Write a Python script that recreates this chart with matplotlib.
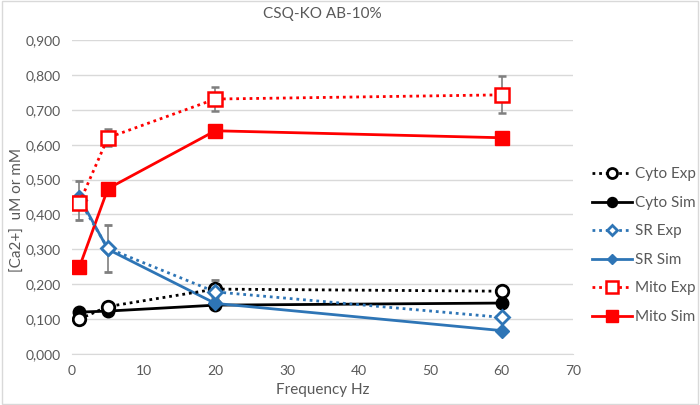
import matplotlib
matplotlib.use("Agg")
import matplotlib.pyplot as plt
from matplotlib.ticker import FuncFormatter, MultipleLocator

plt.rcParams["font.family"] = ["Lato", "DejaVu Sans"]

freq = [1, 5, 20, 60]

cyto_exp = [0.100, 0.136, 0.186, 0.180]
cyto_exp_err = [0.008, 0.008, 0.026, 0.008]
cyto_sim = [0.120, 0.123, 0.140, 0.146]

sr_exp = [0.441, 0.303, 0.178, 0.105]
sr_exp_err = [0.056, 0.068, 0.010, 0.008]
sr_sim = [0.450, 0.300, 0.145, 0.067]

mito_exp = [0.432, 0.620, 0.731, 0.743]
mito_exp_err = [0.012, 0.025, 0.035, 0.053]
mito_sim = [0.248, 0.474, 0.640, 0.620]

BLACK = "#000000"
BLUE = "#2E75B6"
RED = "#FF0000"
GRAY = "#595959"
ERR = "#7F7F7F"
DOT = (0, (1, 1.4))

fig = plt.figure(figsize=(7, 4.05), dpi=100)
ax = fig.add_axes([0.103, 0.126, 0.716, 0.775])

err_kw = dict(ecolor=ERR, elinewidth=1.2, capsize=3, capthick=1.2)

h_ce = ax.errorbar(freq, cyto_exp, yerr=cyto_exp_err, color=BLACK, ls=DOT, lw=2,
                   marker="o", ms=9, mfc="white", mec=BLACK, mew=2, zorder=3, **err_kw)
h_cs, = ax.plot(freq, cyto_sim, color=BLACK, lw=2, marker="o", ms=9, zorder=3)
h_se = ax.errorbar(freq, sr_exp, yerr=sr_exp_err, color=BLUE, ls=DOT, lw=2,
                   marker="D", ms=7, mfc="white", mec=BLUE, mew=2, zorder=3, **err_kw)
h_ss, = ax.plot(freq, sr_sim, color=BLUE, lw=2, marker="D", ms=7, zorder=3)
h_me = ax.errorbar(freq, mito_exp, yerr=mito_exp_err, color=RED, ls=DOT, lw=2,
                   marker="s", ms=10, mfc="white", mec=RED, mew=1.8, zorder=3, **err_kw)
h_ms, = ax.plot(freq, mito_sim, color=RED, lw=2, marker="s", ms=10, zorder=3)

ax.set_xlim(0, 70)
ax.set_ylim(0, 0.9)
ax.xaxis.set_major_locator(MultipleLocator(10))
ax.yaxis.set_major_locator(MultipleLocator(0.1))
ax.yaxis.set_major_formatter(FuncFormatter(lambda v, p: f"{v:.3f}".replace(".", ",")))
ax.grid(axis="y", color="#D9D9D9", lw=1)
ax.set_axisbelow(True)
for s in ["top", "right", "left"]:
    ax.spines[s].set_visible(False)
ax.spines["bottom"].set_color("#D9D9D9")
ax.tick_params(length=0, colors=GRAY, labelsize=10, pad=8)
ax.set_xlabel("Frequency Hz", color=GRAY, fontsize=11, labelpad=4)
ax.set_ylabel("[Ca2+]  uM or mM", color=GRAY, fontsize=11)
ax.yaxis.set_label_coords(-0.094, 0.46)
ax.set_title("CSQ-KO AB-10%", color=GRAY, fontsize=11, pad=16)

leg = ax.legend([h_ce[0], h_cs, h_se[0], h_ss, h_me[0], h_ms],
                ["Cyto Exp", "Cyto Sim", "SR Exp", "SR Sim", "Mito Exp", "Mito Sim"],
                loc="center left", bbox_to_anchor=(1.01, 0.345), frameon=False,
                fontsize=11, handlelength=2.6, labelspacing=0.95, handletextpad=0.2,
                markerscale=0.8)
for t in leg.get_texts():
    t.set_color(GRAY)

fig.patches.append(plt.Rectangle((0.003, 0.003), 0.994, 0.994, transform=fig.transFigure,
                                 fill=False, ec="#D9D9D9", lw=1))

fig.savefig("out.png", dpi=100, facecolor="white")
